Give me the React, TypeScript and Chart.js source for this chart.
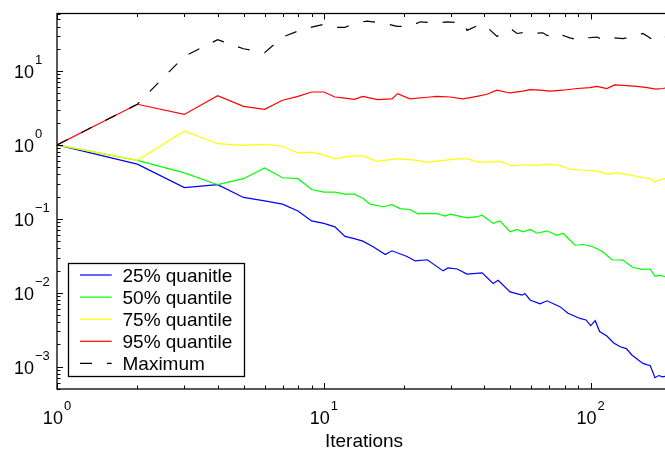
import React, { useEffect, useRef } from "react";
import { Chart, registerables } from "chart.js";

Chart.register(...registerables);

// ---- data ----
const q25X = [1, 2, 3, 4, 5, 6, 7, 8, 9, 10, 11, 12, 13, 14, 15.3, 17, 18, 20.5, 22, 24.4, 28, 29.2, 31.6, 34.4, 39.2, 43.1, 45, 49.9, 55.3, 56.7, 59.3, 64.6, 68.6, 76.7, 82.2, 91.2, 96, 100, 104, 108, 115, 122, 129, 136, 143, 150, 157, 163, 167, 171, 174, 180, 186, 190];
const q25Y = [1, 0.55, 0.265, 0.29, 0.195, 0.175, 0.158, 0.128, 0.094, 0.087, 0.078, 0.058, 0.054, 0.05, 0.042, 0.033, 0.037, 0.031, 0.027, 0.028, 0.0198, 0.0217, 0.021, 0.0179, 0.0186, 0.0134, 0.0148, 0.0103, 0.0093, 0.0098, 0.008, 0.0071, 0.0078, 0.0065, 0.0053, 0.0045, 0.0043, 0.0036, 0.0042, 0.003, 0.0026, 0.0021, 0.00186, 0.00176, 0.00143, 0.00125, 0.00111, 0.00106, 0.00104, 0.00085, 0.00071, 0.00076, 0.00073, 0.00074];

const q50X = [1, 2, 3, 4, 5, 6, 7, 8, 9, 10, 11, 12, 13, 14, 14.9, 16.7, 18, 19.3, 21, 22.4, 26.6, 28.5, 29.7, 34.4, 37.5, 39.2, 43.1, 45.7, 49.9, 53, 55.8, 59.3, 63, 68.6, 74.8, 78.8, 87.4, 93.6, 102, 111, 120, 132, 144, 156, 167, 174, 182, 190];
const q50Y = [1, 0.62, 0.42, 0.29, 0.35, 0.49, 0.36, 0.35, 0.25, 0.23, 0.23, 0.216, 0.216, 0.19, 0.158, 0.146, 0.156, 0.138, 0.134, 0.118, 0.118, 0.109, 0.116, 0.103, 0.107, 0.112, 0.087, 0.094, 0.067, 0.072, 0.067, 0.072, 0.064, 0.069, 0.06, 0.064, 0.044, 0.045, 0.042, 0.036, 0.028, 0.0277, 0.022, 0.0207, 0.021, 0.0168, 0.0172, 0.0165];

const q75X = [1, 2, 3, 4, 5, 6, 7, 8, 9, 10, 11, 12, 13, 14, 15.8, 18.8, 22.4, 24.4, 28, 31.6, 34.4, 38.5, 45.7, 50.7, 55.8, 63, 70.4, 76.7, 83.6, 93.6, 105.6, 116, 125.6, 140.6, 157, 168, 174, 182, 190];
const q75Y = [1, 0.62, 1.55, 1.04, 0.99, 1.02, 0.96, 0.78, 0.8, 0.73, 0.65, 0.69, 0.71, 0.71, 0.6, 0.655, 0.62, 0.58, 0.62, 0.65, 0.65, 0.58, 0.6, 0.52, 0.54, 0.53, 0.55, 0.53, 0.47, 0.455, 0.445, 0.4, 0.42, 0.39, 0.36, 0.35, 0.316, 0.34, 0.35];

const q95X = [1, 2, 3, 4, 5, 6, 7, 8, 9, 10, 11, 12, 13, 14, 15.9, 18, 18.9, 21, 25, 26.5, 29.7, 33.2, 37.5, 40.9, 44.5, 49.8, 55.7, 59.2, 64.6, 70.4, 78.7, 88.9, 99.4, 105.6, 115, 123, 132, 149, 163, 175, 187, 190];
const q95Y = [1, 3.55, 2.59, 4.65, 3.33, 3.04, 4.02, 4.55, 5.2, 5.2, 4.45, 4.3, 4.15, 4.55, 4.1, 4.2, 4.95, 4.2, 4.45, 4.55, 4.45, 4.2, 4.55, 4.85, 5.5, 5.05, 5.35, 5.6, 5.5, 5.35, 5.5, 5.8, 5.97, 6.2, 5.8, 6.5, 6.4, 6.2, 5.97, 5.7, 5.8, 5.9];

const maxX = [1, 2, 3, 4, 5, 6, 7, 8, 9, 10, 11, 12, 13, 14.5, 16.7, 18.8, 21, 23, 26.6, 29, 33.3, 34.4, 38.5, 40.8, 44.6, 47, 50.7, 53, 57.7, 60.8, 66.2, 68.6, 74.8, 76.7, 83.6, 91.2, 96.8, 105.6, 111, 121, 132, 144, 157, 171, 180, 187, 190];
const maxY = [1, 3.55, 15.8, 26.5, 20, 17.7, 28.8, 34.7, 39.3, 42.7, 39, 39, 44, 47.4, 44.6, 40.2, 40.2, 46.3, 44.6, 46.3, 44.6, 35.5, 42.7, 39.4, 29.4, 33.6, 36.2, 32.2, 33.6, 32.2, 32.9, 30.3, 28.8, 31.3, 28.1, 26, 28.1, 28.8, 26.6, 28.1, 27.5, 29.4, 32.2, 26.6, 29, 30.3, 29];

const seriesLabels = ["25% quanitle", "50% quantile", "75% quantile", "95% quantile", "Maximum"];
const seriesColors = ["#0000ff", "#00ff00", "#ffff00", "#ff0000", "#000000"];

const xMajorTicks = [1, 10, 100];
const xExponents = ["0", "1", "2"];
const yMajorTicks = [0.001, 0.01, 0.1, 1, 10];
const yExponents = ["\u22123", "\u22122", "\u22121", "0", "1"];
const minorMultipliers = [2, 3, 4, 5, 6, 7, 8, 9];

const X_MIN = 1;
const X_MAX = 200;
const Y_MIN = 0.0005;
const Y_MAX = 60;
const xTitle = "Iterations";

const FONT = '"Liberation Sans", Arial, Helvetica, sans-serif';
const MAX_DASH = [12, 15];

function pts(xs: number[], ys: number[]) {
  return xs.map((x, i) => ({ x, y: ys[i] }));
}

const decorPlugin = {
  id: "matlabDecor",
  afterDraw(chart: any) {
    const { ctx, chartArea: a, scales } = chart;
    const xs = scales.x;
    const ys = scales.y;
    ctx.save();
    ctx.strokeStyle = "#000";
    ctx.fillStyle = "#000";
    ctx.lineWidth = 1.3;
    ctx.setLineDash([]);
    ctx.strokeRect(a.left, a.top, a.right - a.left, a.bottom - a.top);

    const majorLen = 6;
    const minorLen = 3.5;
    ctx.lineWidth = 1;
    const xTickVals: [number, boolean][] = [];
    xMajorTicks.forEach((d) => {
      xTickVals.push([d, true]);
      minorMultipliers.forEach((m) => xTickVals.push([d * m, false]));
    });
    xTickVals.forEach(([v, major]) => {
      if (v < X_MIN || v > X_MAX) return;
      const px = Math.round(xs.getPixelForValue(v)) + 0.5;
      const len = major ? majorLen : minorLen;
      ctx.beginPath();
      ctx.moveTo(px, a.bottom);
      ctx.lineTo(px, a.bottom - len);
      ctx.moveTo(px, a.top);
      ctx.lineTo(px, a.top + len);
      ctx.stroke();
    });
    const yTickVals: [number, boolean][] = [];
    [0.0001, ...yMajorTicks].forEach((d) => {
      yTickVals.push([d, true]);
      minorMultipliers.forEach((m) => yTickVals.push([d * m, false]));
    });
    yTickVals.forEach(([v, major]) => {
      if (v < Y_MIN || v > Y_MAX) return;
      const py = Math.round(ys.getPixelForValue(v)) + 0.5;
      const len = major ? majorLen : minorLen;
      ctx.beginPath();
      ctx.moveTo(a.left, py);
      ctx.lineTo(a.left + len, py);
      ctx.stroke();
    });

    const baseFont = `18px ${FONT}`;
    const expFont = `13px ${FONT}`;
    ctx.textBaseline = "alphabetic";
    ctx.textAlign = "left";
    xMajorTicks.forEach((v, i) => {
      const px = xs.getPixelForValue(v);
      ctx.font = baseFont;
      const wb = ctx.measureText("10").width;
      ctx.font = expFont;
      const we = ctx.measureText(xExponents[i]).width;
      const start = px - (wb + 1 + we) / 2;
      ctx.font = baseFont;
      ctx.fillText("10", start, a.bottom + 34.5);
      ctx.font = expFont;
      ctx.fillText(xExponents[i], start + wb + 1, a.bottom + 20.5);
    });
    yMajorTicks.forEach((v, i) => {
      const py = ys.getPixelForValue(v);
      ctx.font = baseFont;
      ctx.textAlign = "right";
      ctx.fillText("10", a.left - 23, py + 7);
      ctx.font = expFont;
      ctx.textAlign = "left";
      ctx.fillText(yExponents[i], a.left - 22, py - 7);
    });

    ctx.font = `19px ${FONT}`;
    ctx.textAlign = "center";
    const cx = (xs.getPixelForValue(X_MIN) + xs.getPixelForValue(X_MAX)) / 2;
    ctx.fillText(xTitle, cx, a.bottom + 57.5);

    const lx = 68.5, ly = 263.5, lw = 176, lh = 113;
    ctx.fillStyle = "#fff";
    ctx.fillRect(lx, ly, lw, lh);
    ctx.lineWidth = 1.3;
    ctx.strokeStyle = "#000";
    ctx.strokeRect(lx, ly, lw, lh);
    ctx.font = `19px ${FONT}`;
    ctx.textAlign = "left";
    ctx.textBaseline = "middle";
    seriesLabels.forEach((lab, i) => {
      const ry = 275 + i * 22.1;
      ctx.strokeStyle = seriesColors[i];
      ctx.lineWidth = 1.2;
      ctx.setLineDash(i === 4 ? MAX_DASH : []);
      ctx.beginPath();
      ctx.moveTo(80, ry);
      ctx.lineTo(111.7, ry);
      ctx.stroke();
      ctx.setLineDash([]);
      ctx.fillStyle = "#000";
      ctx.fillText(lab, 122.5, ry + 1.5);
    });
    ctx.restore();
  },
};

export default function App() {
  const ref = useRef<HTMLCanvasElement | null>(null);
  useEffect(() => {
    if (!ref.current) return;
    const data = [pts(q25X, q25Y), pts(q50X, q50Y), pts(q75X, q75Y), pts(q95X, q95Y), pts(maxX, maxY)];
    const chart = new Chart(ref.current, {
      type: "line",
      data: {
        datasets: data.map((d, i) => ({
          label: seriesLabels[i],
          data: d,
          borderColor: seriesColors[i],
          backgroundColor: seriesColors[i],
          borderWidth: 1.2,
          borderDash: i === 4 ? MAX_DASH : [],
          pointRadius: 0,
          tension: 0,
          fill: false,
          order: 4 - i,
        })),
      },
      options: {
        animation: false,
        responsive: false,
        devicePixelRatio: 1,
        layout: { padding: { left: 57, right: 1, top: 13.5, bottom: 61 } },
        plugins: { legend: { display: false }, tooltip: { enabled: false } },
        scales: {
          x: { type: "logarithmic", min: X_MIN, max: X_MAX, display: false },
          y: { type: "logarithmic", min: Y_MIN, max: Y_MAX, display: false },
        },
      },
      plugins: [decorPlugin],
    });
    return () => chart.destroy();
  }, []);
  return (
    <div style={{ position: "fixed", left: 0, top: 0, width: 665, height: 450, overflow: "hidden", background: "#fff" }}>
      <canvas ref={ref} width={672} height={450} style={{ display: "block" }} />
    </div>
  );
}
